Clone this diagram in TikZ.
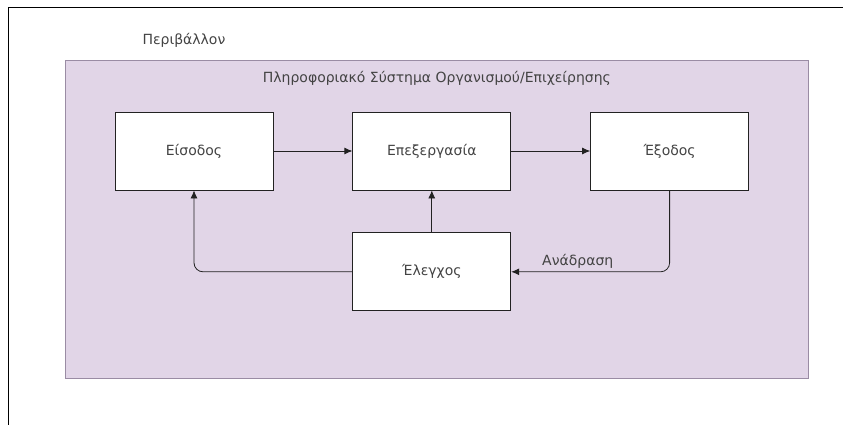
\documentclass[tikz,border=0pt]{standalone}
\usepackage{fontspec}
\setmainfont{DejaVu Sans}
\usetikzlibrary{arrows.meta,positioning}
\definecolor{sysfill}{HTML}{E1D5E7}
\definecolor{sysdraw}{HTML}{9A8CA4}
\definecolor{linedark}{HTML}{222222}

\begin{document}
\begin{tikzpicture}[x=1pt,y=-1pt,node distance=79pt,
    every node/.style={align=center,font=\fontsize{14}{16}\selectfont,text=linedark!85},
    block/.style={draw=linedark,fill=white,thick,minimum width=158pt,minimum height=78pt,inner sep=0pt},
    flow/.style={-{Latex[length=8pt,width=7pt]},thick,linedark}]
        \useasboundingbox (0,0) rectangle (843,425);
        \draw[black,thick] (8,425) -- (8,7) -- (843,7);
        \node[draw=sysdraw,fill=sysfill,thick,minimum width=743pt,minimum height=318pt,
              anchor=north west,inner sep=0pt] (sys) at (65,60) {};
        \node[anchor=west] (env) at (139,40) {Περιβάλλον};
        \node[below=8pt of sys.north] (title) {Πληροφοριακό Σύστημα Οργανισμού/Επιχείρησης};
        \node[block] (input) at (194,151) {Είσοδος};
        \node[block,right=of input] (process) {Επεξεργασία};
        \node[block,right=of process] (output) {Έξοδος};
        \node[block,below=42pt of process] (control) {Έλεγχος};
        \draw[flow] (input) -- (process);
        \draw[flow] (process) -- (output);
        \draw[flow] (control) -- (process);
        \draw[flow,rounded corners=9pt] (control.west) -| (input.south);
        \draw[flow,rounded corners=9pt] (output.south) |- node[pos=0.79,above] {Ανάδραση} (control.east);
      \end{tikzpicture}
\end{document}
